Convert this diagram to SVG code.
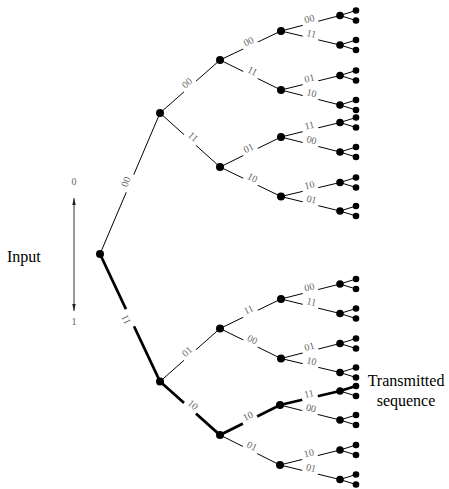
<svg xmlns="http://www.w3.org/2000/svg" width="449" height="489" viewBox="0 0 449 489">
  <style>
    .e { stroke: #000; stroke-width: 1; fill: none; }
    .b { stroke: #000; stroke-width: 2.8; fill: none; stroke-linecap: round; }
    .el { font-size: 10px; fill: #666; text-anchor: middle; }
    .t { font-size: 16px; fill: #000; }
    .n circle { fill: #000; }
  </style>
  <defs>
    <rect id="gap" x="-8" y="-10" width="16" height="12.5" fill="#fff"/>
    <rect id="gapL" x="-9.5" y="-10" width="19" height="12.5" fill="#fff"/>
    <marker id="ah" viewBox="0 0 8 4" refX="8" refY="2" markerWidth="7" markerHeight="4" orient="auto-start-reverse" markerUnits="userSpaceOnUse">
      <path d="M0,0 L8,2 L0,4 Z" fill="#222"/>
    </marker>
  </defs>

  <g font-family="'Liberation Serif', 'DejaVu Serif', serif">
  <!-- input axis -->
  <g id="axis">
    <line x1="74" y1="198" x2="74" y2="311" stroke="#333" stroke-width="1" marker-start="url(#ah)" marker-end="url(#ah)"/>
    <text class="el" x="74" y="185">0</text>
    <text class="el" x="74" y="325">1</text>
    <text class="t" x="7" y="262">Input</text>
  </g>

  <!-- branches of the code tree -->
  <g id="connectors">
    <line class="e" x1="100" y1="254" x2="160" y2="113"/>
    <line class="e" x1="160" y1="113" x2="220" y2="60"/>
    <line class="e" x1="160" y1="113" x2="220" y2="167"/>
    <line class="e" x1="220" y1="60" x2="281" y2="31"/>
    <line class="e" x1="220" y1="60" x2="281" y2="90"/>
    <line class="e" x1="220" y1="167" x2="281" y2="137"/>
    <line class="e" x1="220" y1="167" x2="281" y2="196.5"/>
    <line class="e" x1="281" y1="31" x2="340" y2="15.5"/>
    <line class="e" x1="281" y1="31" x2="340" y2="45"/>
    <line class="e" x1="281" y1="90" x2="340" y2="75.5"/>
    <line class="e" x1="281" y1="90" x2="340" y2="105"/>
    <line class="e" x1="281" y1="137" x2="340" y2="122.5"/>
    <line class="e" x1="281" y1="137" x2="340" y2="152"/>
    <line class="e" x1="281" y1="196.5" x2="340" y2="182.5"/>
    <line class="e" x1="281" y1="196.5" x2="340" y2="211"/>
    <line class="e" x1="160" y1="381.5" x2="220" y2="328.5"/>
    <line class="e" x1="220" y1="328.5" x2="281" y2="299"/>
    <line class="e" x1="220" y1="328.5" x2="281" y2="358.5"/>
    <line class="e" x1="220" y1="435" x2="280" y2="465"/>
    <line class="e" x1="281" y1="299" x2="340" y2="284"/>
    <line class="e" x1="281" y1="299" x2="340" y2="313.5"/>
    <line class="e" x1="281" y1="358.5" x2="340" y2="343.5"/>
    <line class="e" x1="281" y1="358.5" x2="340" y2="372.5"/>
    <line class="e" x1="280" y1="405" x2="340" y2="420"/>
    <line class="e" x1="280" y1="465" x2="340" y2="450"/>
    <line class="e" x1="280" y1="465" x2="340" y2="479.5"/>
    <!-- last-stage forks -->
    <path class="e" d="M356,10.5 L340,15.5 L356,20.5 M356,40 L340,45 L356,50 M356,70.5 L340,75.5 L356,80.5 M356,100 L340,105 L356,110 M356,117.5 L340,122.5 L356,127.5 M356,147 L340,152 L356,157 M356,177.5 L340,182.5 L356,187.5 M356,206 L340,211 L356,216 M356,279 L340,284 L356,289 M356,308.5 L340,313.5 L356,318.5 M356,338.5 L340,343.5 L356,348.5 M356,367.5 L340,372.5 L356,377.5 M340,391 L356,396 M356,415 L340,420 L356,425 M356,445 L340,450 L356,455 M356,474.5 L340,479.5 L356,484.5"/>
    <!-- transmitted path 11 10 10 11 -->
    <path class="b" d="M100,254 L160,381.5 L220,435 L280,405 L340,391 L356,386"/>
  </g>

  <!-- branch labels -->
  <g id="labels">
    <g transform="translate(130,183.5) rotate(-66.95)"><use href="#gapL"/><text class="el" y="-1.2">00</text></g>
    <g transform="translate(130,317.75) rotate(-115.2)"><use href="#gapL"/><text class="el" y="-1.2">11</text></g>
    <g transform="translate(190,86.5) rotate(-41.5)"><use href="#gap"/><text class="el" y="-1.2">00</text></g>
    <g transform="translate(190,140) rotate(42)"><use href="#gap"/><text class="el" y="-1.2">11</text></g>
    <g transform="translate(250.5,45.5) rotate(-25.4)"><use href="#gap"/><text class="el" y="-1.2">00</text></g>
    <g transform="translate(250.5,75) rotate(26.2)"><use href="#gap"/><text class="el" y="-1.2">11</text></g>
    <g transform="translate(250.5,152) rotate(-26.2)"><use href="#gap"/><text class="el" y="-1.2">01</text></g>
    <g transform="translate(250.5,181.75) rotate(25.8)"><use href="#gap"/><text class="el" y="-1.2">10</text></g>
    <g transform="translate(310.5,23.25) rotate(-14.7)"><use href="#gap"/><text class="el" y="-1.2">00</text></g>
    <g transform="translate(310.5,38) rotate(13.3)"><use href="#gap"/><text class="el" y="-1.2">11</text></g>
    <g transform="translate(310.5,82.75) rotate(-13.8)"><use href="#gap"/><text class="el" y="-1.2">01</text></g>
    <g transform="translate(310.5,97.5) rotate(14.3)"><use href="#gap"/><text class="el" y="-1.2">10</text></g>
    <g transform="translate(310.5,129.75) rotate(-13.8)"><use href="#gap"/><text class="el" y="-1.2">11</text></g>
    <g transform="translate(310.5,144.5) rotate(14.3)"><use href="#gap"/><text class="el" y="-1.2">00</text></g>
    <g transform="translate(310.5,189.5) rotate(-13.3)"><use href="#gap"/><text class="el" y="-1.2">10</text></g>
    <g transform="translate(310.5,203.75) rotate(13.8)"><use href="#gap"/><text class="el" y="-1.2">01</text></g>
    <g transform="translate(190,355) rotate(-41.5)"><use href="#gap"/><text class="el" y="-1.2">01</text></g>
    <g transform="translate(190,408.25) rotate(41.7)"><use href="#gap"/><text class="el" y="-1.2">10</text></g>
    <g transform="translate(250.5,313.75) rotate(-25.8)"><use href="#gap"/><text class="el" y="-1.2">11</text></g>
    <g transform="translate(250.5,343.5) rotate(26.2)"><use href="#gap"/><text class="el" y="-1.2">00</text></g>
    <g transform="translate(250,420) rotate(-26.6)"><use href="#gap"/><text class="el" y="-1.2">10</text></g>
    <g transform="translate(250,450) rotate(26.6)"><use href="#gap"/><text class="el" y="-1.2">01</text></g>
    <g transform="translate(310.5,291.5) rotate(-14.3)"><use href="#gap"/><text class="el" y="-1.2">00</text></g>
    <g transform="translate(310.5,306.25) rotate(13.8)"><use href="#gap"/><text class="el" y="-1.2">11</text></g>
    <g transform="translate(310.5,351) rotate(-14.3)"><use href="#gap"/><text class="el" y="-1.2">01</text></g>
    <g transform="translate(310.5,365.5) rotate(13.3)"><use href="#gap"/><text class="el" y="-1.2">10</text></g>
    <g transform="translate(310,398) rotate(-13.1)"><use href="#gap"/><text class="el" y="-1.2">11</text></g>
    <g transform="translate(310,412.5) rotate(14)"><use href="#gap"/><text class="el" y="-1.2">00</text></g>
    <g transform="translate(310,457.5) rotate(-14)"><use href="#gap"/><text class="el" y="-1.2">10</text></g>
    <g transform="translate(310,472.25) rotate(13.6)"><use href="#gap"/><text class="el" y="-1.2">01</text></g>
  </g>

  <!-- tree nodes -->
  <g id="n" class="n"><circle cx="100" cy="254" r="4"/></g>
  <g id="n0" class="n"><circle cx="160" cy="113" r="4"/></g>
  <g id="n1" class="n"><circle cx="160" cy="381.5" r="4"/></g>
  <g id="n00" class="n"><circle cx="220" cy="60" r="4"/></g>
  <g id="n01" class="n"><circle cx="220" cy="167" r="4"/></g>
  <g id="n10" class="n"><circle cx="220" cy="328.5" r="4"/></g>
  <g id="n11" class="n"><circle cx="220" cy="435" r="4"/></g>
  <g id="n000" class="n"><circle cx="281" cy="31" r="4"/></g>
  <g id="n001" class="n"><circle cx="281" cy="90" r="4"/></g>
  <g id="n010" class="n"><circle cx="281" cy="137" r="4"/></g>
  <g id="n011" class="n"><circle cx="281" cy="196.5" r="4"/></g>
  <g id="n100" class="n"><circle cx="281" cy="299" r="4"/></g>
  <g id="n101" class="n"><circle cx="281" cy="358.5" r="4"/></g>
  <g id="n110" class="n"><circle cx="280" cy="405" r="4"/></g>
  <g id="n111" class="n"><circle cx="280" cy="465" r="4"/></g>
  <g id="n0000" class="n"><circle cx="340" cy="15.5" r="3.8"/></g>
  <g id="n0001" class="n"><circle cx="340" cy="45" r="3.8"/></g>
  <g id="n0010" class="n"><circle cx="340" cy="75.5" r="3.8"/></g>
  <g id="n0011" class="n"><circle cx="340" cy="105" r="3.8"/></g>
  <g id="n0100" class="n"><circle cx="340" cy="122.5" r="3.8"/></g>
  <g id="n0101" class="n"><circle cx="340" cy="152" r="3.8"/></g>
  <g id="n0110" class="n"><circle cx="340" cy="182.5" r="3.8"/></g>
  <g id="n0111" class="n"><circle cx="340" cy="211" r="3.8"/></g>
  <g id="n1000" class="n"><circle cx="340" cy="284" r="3.8"/></g>
  <g id="n1001" class="n"><circle cx="340" cy="313.5" r="3.8"/></g>
  <g id="n1010" class="n"><circle cx="340" cy="343.5" r="3.8"/></g>
  <g id="n1011" class="n"><circle cx="340" cy="372.5" r="3.8"/></g>
  <g id="n1100" class="n"><circle cx="340" cy="391" r="3.8"/></g>
  <g id="n1101" class="n"><circle cx="340" cy="420" r="3.8"/></g>
  <g id="n1110" class="n"><circle cx="340" cy="450" r="3.8"/></g>
  <g id="n1111" class="n"><circle cx="340" cy="479.5" r="3.8"/></g>
  <g id="n00000" class="n"><circle cx="356" cy="10.5" r="3.3"/></g>
  <g id="n00001" class="n"><circle cx="356" cy="20.5" r="3.3"/></g>
  <g id="n00010" class="n"><circle cx="356" cy="40" r="3.3"/></g>
  <g id="n00011" class="n"><circle cx="356" cy="50" r="3.3"/></g>
  <g id="n00100" class="n"><circle cx="356" cy="70.5" r="3.3"/></g>
  <g id="n00101" class="n"><circle cx="356" cy="80.5" r="3.3"/></g>
  <g id="n00110" class="n"><circle cx="356" cy="100" r="3.3"/></g>
  <g id="n00111" class="n"><circle cx="356" cy="110" r="3.3"/></g>
  <g id="n01000" class="n"><circle cx="356" cy="117.5" r="3.3"/></g>
  <g id="n01001" class="n"><circle cx="356" cy="127.5" r="3.3"/></g>
  <g id="n01010" class="n"><circle cx="356" cy="147" r="3.3"/></g>
  <g id="n01011" class="n"><circle cx="356" cy="157" r="3.3"/></g>
  <g id="n01100" class="n"><circle cx="356" cy="177.5" r="3.3"/></g>
  <g id="n01101" class="n"><circle cx="356" cy="187.5" r="3.3"/></g>
  <g id="n01110" class="n"><circle cx="356" cy="206" r="3.3"/></g>
  <g id="n01111" class="n"><circle cx="356" cy="216" r="3.3"/></g>
  <g id="n10000" class="n"><circle cx="356" cy="279" r="3.3"/></g>
  <g id="n10001" class="n"><circle cx="356" cy="289" r="3.3"/></g>
  <g id="n10010" class="n"><circle cx="356" cy="308.5" r="3.3"/></g>
  <g id="n10011" class="n"><circle cx="356" cy="318.5" r="3.3"/></g>
  <g id="n10100" class="n"><circle cx="356" cy="338.5" r="3.3"/></g>
  <g id="n10101" class="n"><circle cx="356" cy="348.5" r="3.3"/></g>
  <g id="n10110" class="n"><circle cx="356" cy="367.5" r="3.3"/></g>
  <g id="n10111" class="n"><circle cx="356" cy="377.5" r="3.3"/></g>
  <g id="n11000" class="n"><circle cx="356" cy="386" r="3.3"/></g>
  <g id="n11001" class="n"><circle cx="356" cy="396" r="3.3"/></g>
  <g id="n11010" class="n"><circle cx="356" cy="415" r="3.3"/></g>
  <g id="n11011" class="n"><circle cx="356" cy="425" r="3.3"/></g>
  <g id="n11100" class="n"><circle cx="356" cy="445" r="3.3"/></g>
  <g id="n11101" class="n"><circle cx="356" cy="455" r="3.3"/></g>
  <g id="n11110" class="n"><circle cx="356" cy="474.5" r="3.3"/></g>
  <g id="n11111" class="n"><circle cx="356" cy="484.5" r="3.3"/></g>

  <!-- caption for the highlighted path -->
  <g id="caption">
    <text class="t" x="406" y="385.5" text-anchor="middle">Transmitted</text>
    <text class="t" x="406" y="405.5" text-anchor="middle">sequence</text>
  </g>
  </g>
</svg>
